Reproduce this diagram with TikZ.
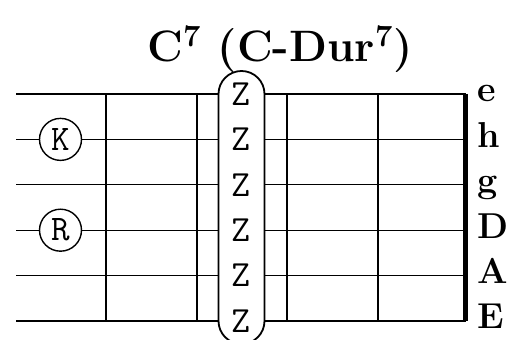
\documentclass[tikz,border=0pt]{standalone}
\usepackage{fontspec}
\usepackage{tikz}
\usetikzlibrary{positioning}

\begin{document}
\begin{tikzpicture}[
  x=0.5pt,y=-0.5pt,
  every node/.style={inner sep=0pt},
  saite/.style={draw=black,line width=0.6pt},
  bund/.style={draw=black,line width=1pt},
  sattel/.style={draw=black,line width=2.6pt},
  finger/.style={draw,circle,fill=white,minimum size=21pt,line width=0.7pt,font=\fontsize{18}{21}\selectfont\ttfamily},
  barre/.style={draw,fill=white,rounded corners=11.5pt,minimum width=23pt,minimum height=136.5pt,line width=0.9pt},
  zeichen/.style={font=\fontsize{18.5}{22}\selectfont\ttfamily},
  saitenname/.style={anchor=base west,font=\fontsize{18}{21}\selectfont\bfseries},
  titel/.style={anchor=base,font=\fontsize{22}{26}\selectfont\bfseries}
]
  \useasboundingbox (0,0) rectangle (514,340);
  \node[titel] (kopf) at (280,62) {C\textsuperscript{7} (C-Dur\textsuperscript{7})};
  % Saiten mit Namen
  \foreach \y/\s in {94/e,139.4/h,184.8/g,230.2/D,275.6/A,321/E} {
    \draw[saite] (16,\y) -- (466,\y);
    \node[saitenname] (name\s) at (477,\y+8) {\s};
  }
  % Bünde und Sattel
  \foreach \x in {106,196.7,287.3,378}
    \draw[bund] (\x,94) -- (\x,321);
  \draw[sattel] (465.5,94) -- (465.5,321);
  % Barré
  \node[barre] (barre) at (241.5,207.5) {};
  \foreach \y [count=\i] in {94,139.4,184.8,230.2,275.6,321}
    \node[zeichen] (z\i) at (241.5,\y) {Z};
  % Finger
  \node[finger] (k) at (60.5,139.4) {K};
  \node[finger] (r) at (60.5,230.2) {R};
\end{tikzpicture}
\end{document}
